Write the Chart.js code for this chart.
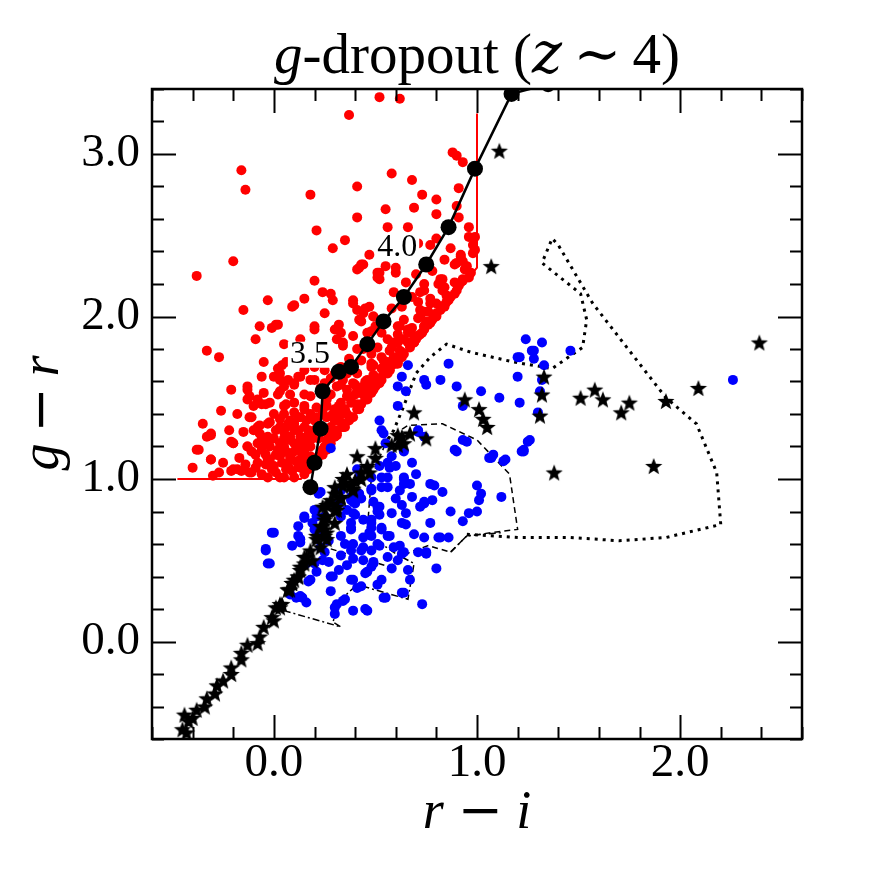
<!DOCTYPE html>
<html>
<head>
<meta charset="utf-8">
<script src="https://cdn.jsdelivr.net/npm/chart.js@4.4.1/dist/chart.umd.min.js"></script>
<style>
  html, body { margin: 0; padding: 0; background: #fff; }
  #wrap { width: 891px; height: 891px; }
</style>
</head>
<body>
<div id="wrap"><canvas id="c" width="891" height="891"></canvas></div>
<script>
// colour-colour diagram, r-i vs g-r

const xTickVals = [0, 1, 2];
const yTickVals = [0, 1, 2, 3];

// g-dropout candidates (red)
const redPts = [
  [0.52,3.35],[0.62,3.34],[0.37,3.24],[0.88,3.01],[0.90,2.99],[0.93,2.95],[-0.16,2.90],[-0.14,2.78],
  [0.58,2.88],[0.68,2.84],[0.41,2.80],[0.18,2.75],[0.91,2.79],[0.69,2.67],[0.80,2.72],[0.80,2.63],
  [0.91,2.61],[0.41,2.61],[0.21,2.53],[0.56,2.55],[0.66,2.55],[0.80,2.48],[0.96,2.49],[0.98,2.44],
  [0.98,2.39],[0.77,2.44],[0.71,2.45],[0.29,2.42],[-0.20,2.34],[-0.38,2.25],[0.43,2.32],[0.41,2.29],
  [0.52,2.27],[0.55,2.31],[0.60,2.30],[0.60,2.27],[0.51,2.24],[0.89,2.32],[0.93,2.34],[0.94,2.29],
  [0.92,2.38],[0.83,2.23],[0.81,2.20],[0.89,2.21],[0.92,2.21],[0.83,2.16],[0.74,2.20],[0.72,2.15],
  [0.77,2.11],[0.20,2.22],[0.24,2.15],[0.28,2.14],[-0.03,2.10],[0.15,2.11],[0.39,2.10],
  [0.10,2.07],[-0.15,2.04],[0.39,2.08],[0.41,2.04],[0.47,2.06],[0.44,2.02],[0.71,2.09],[0.74,2.03],
  [0.71,1.99],[0.75,1.97],[0.80,2.00],[0.01,1.95],[-0.01,1.93],[-0.07,1.94],[-0.09,1.86],[0.20,1.94],
  [0.20,1.92],[0.32,1.95],[0.30,1.92],[0.33,1.90],[0.34,1.84],[0.43,1.97],[0.48,1.91],[0.49,2.00],
  [0.62,1.94],[0.66,1.92],[0.69,1.88],[0.61,1.89],[0.56,1.86],[0.66,1.84],[0.74,1.94],[0.72,1.89],
  [0.62,1.79],[0.59,1.75],[0.56,1.72],[0.53,1.75],[0.49,1.70],[0.57,1.67],[0.49,1.64],[0.46,1.61],
  [0.51,1.59],[0.53,1.61],[0.49,1.55],[0.43,1.53],[0.46,1.49],[0.41,1.46],[0.43,1.46],[0.36,1.55],
  [0.38,1.47],[0.33,1.40],[0.39,1.38],[0.34,1.32],[0.30,1.36],[0.26,1.45],[0.30,1.28],[0.31,1.27],
  [0.26,1.24],[0.26,1.18],[0.24,1.15],[0.17,1.08],[0.20,1.11],[0.15,1.03],[0.12,1.08],[0.08,1.14],
  [0.05,1.01],[0.07,1.08],[0.00,1.08],[-0.03,1.01],[-0.03,1.12],[-0.08,1.10],[-0.12,1.04],[-0.18,1.06],
  [-0.21,1.05],[-0.21,1.23],[-0.20,1.22],[-0.31,1.27],[-0.33,1.26],[-0.37,1.18],[-0.31,1.12],[-0.33,1.79],
  [-0.27,1.75],[-0.11,1.17],[-0.13,1.20],[-0.12,1.38],[-0.08,1.32],[-0.06,1.26],[-0.02,1.24],[-0.03,1.34],
  [0.03,1.32],[0.07,1.34],[0.10,1.34],[0.08,1.26],[0.13,1.26],[0.16,1.24],[0.15,1.18],[0.12,1.20],
  [0.05,1.20],[0.02,1.18],[0.13,1.12],[0.16,1.10],[-0.10,1.45],[-0.13,1.55],[-0.13,1.49],[-0.08,1.48],
  [-0.04,1.46],[0.05,1.45],[0.02,1.52],[0.00,1.63],[-0.06,1.63],[0.03,1.61],[0.07,1.61],[0.02,1.68],
  [0.04,1.70],[0.12,1.63],[0.15,1.67],[0.10,1.58],[0.15,1.52],[0.15,1.43],[0.12,1.38],[0.18,1.40],
  [0.20,1.36],[0.25,1.67],[0.20,1.61],[0.24,1.71],
  [0.33,1.69],[0.36,1.65],[0.41,1.65],[0.39,1.59],[0.43,1.73],[0.48,1.77],[0.51,1.81],[0.59,1.84],
  [0.61,1.71],[0.46,1.55],[0.42,1.43],[0.35,1.32],[0.31,1.28],[0.27,1.22],[0.24,1.16],[0.19,1.10],
  [0.17,1.06],[0.37,1.36],[0.41,1.43],[0.45,1.49],[0.48,1.53],[0.52,1.59],[0.56,1.65],[0.60,1.71],
  [0.63,1.75],[0.70,1.86],[0.73,1.90],[0.78,1.98],[0.82,2.04],[0.86,2.10],[0.89,2.14],
  [0.02,1.95],[0.09,2.06],[0.29,2.10],[0.42,2.30],[0.44,2.32],[0.51,2.27],[0.52,2.23],[0.59,2.15],
  [0.45,2.05],[0.42,1.98],[0.49,2.00],[0.50,1.94],[0.31,1.86],[0.34,1.82],[0.39,1.88],[0.41,1.80],
  [0.61,1.94],[0.64,1.98],[0.72,2.04],[0.74,2.16],[0.82,2.23],[0.84,2.18],[0.92,2.37],[0.90,2.33],
  [0.95,2.31],[0.99,2.41],[0.99,2.49],[0.77,2.08],[0.72,2.00],[0.74,1.94],[0.66,1.90],[0.61,1.84],
  [0.57,1.79],[0.54,1.73],[0.48,1.71],
  [-0.13,1.57],[-0.12,1.51],[-0.08,1.49],[0.03,1.65],[0.05,1.57],[0.10,1.59],[0.13,1.63],[0.18,1.61],
  [0.03,1.54],[-0.02,1.47],[-0.06,1.46],[0.06,1.46],[0.10,1.47],[0.15,1.45],[0.18,1.51],[0.21,1.38],
  [0.13,1.38],[0.08,1.36],[0.03,1.37],[-0.02,1.35],[-0.07,1.33],[-0.11,1.38],[-0.10,1.30],[-0.07,1.28],
  [-0.03,1.26],[0.01,1.30],[0.05,1.29],[0.12,1.30],[0.16,1.26],[0.08,1.24],[0.03,1.22],[-0.02,1.20],
  [-0.06,1.18],[-0.09,1.15],[-0.13,1.20],[-0.20,1.22],[-0.31,1.12],[-0.38,1.18],[-0.31,1.28],[-0.20,1.06],
  [-0.16,1.05],[-0.11,1.04],[-0.06,1.03],[-0.01,1.06],[0.03,1.01],[0.06,1.06],[0.10,1.01],[0.13,1.07],
  [0.08,1.12],[0.03,1.14],[-0.02,1.12],[0.12,1.18],[0.16,1.14],[0.18,1.20],[0.17,1.30],
  [0.26,1.38],[0.30,1.43],[0.33,1.47],[0.36,1.51],[0.41,1.55],[0.44,1.57],[0.49,1.61],[0.54,1.65],
  [0.57,1.67],[0.61,1.72],[0.64,1.77],[0.69,1.84],[0.71,1.88],[0.77,1.96],[0.80,2.02],[0.84,2.06],
  [0.87,2.12],[0.90,2.16],[0.93,2.23],[0.97,2.27],[0.31,1.30],[0.34,1.32],[0.38,1.38],[0.42,1.45],
  [0.46,1.50],[0.50,1.57],[0.28,1.22],[0.30,1.26],[0.20,1.12],[0.16,1.06],[0.24,1.18],[0.22,1.14],
  [0.25,1.20],[0.23,1.30],[0.26,1.49],[0.31,1.57],[0.34,1.61],[0.39,1.67],[0.48,1.69],[0.30,1.65],
  [0.25,1.59],
  [-0.14,1.09],[-0.09,1.07],[-0.04,1.09],[0.01,1.04],[0.04,1.10],[0.09,1.05],[0.11,1.11],[0.14,1.15],
  [0.10,1.17],[0.06,1.17],[0.01,1.15],[-0.04,1.15],[-0.08,1.22],[-0.04,1.22],[0.00,1.25],[0.05,1.25],
  [0.10,1.22],[0.14,1.22],[0.19,1.25],[0.20,1.30],[0.15,1.32],[0.10,1.30],[0.06,1.32],[0.00,1.40],
  [0.05,1.40],[0.10,1.41],[0.16,1.36],[0.21,1.44],[0.24,1.41],[0.28,1.32],[0.27,1.27],[0.22,1.25],
  [0.29,1.40],[0.32,1.45],[0.35,1.43],[0.38,1.50],[0.40,1.52],[0.44,1.52],[0.47,1.56],[0.52,1.62],
  [0.55,1.69],[0.58,1.70],[0.63,1.78],[0.67,1.81],[0.69,1.84],[0.74,1.92],[0.76,1.95],[0.80,2.01],
  [0.84,2.07],[0.85,2.09],[0.91,2.19],[0.93,2.22],[0.96,2.24],[0.85,2.13],[0.80,2.08],[0.76,2.03],
  [0.68,1.93],[0.64,1.86],[0.58,1.81],[0.53,1.68],[0.45,1.60],[0.40,1.58],[0.36,1.40],[0.33,1.35],
  [-0.17,1.13],[-0.25,1.10],[-0.27,1.04],[-0.15,1.29],[-0.18,1.40],[-0.22,1.30],[-0.05,1.53],[0.08,1.52],
  [0.06,1.72],[0.11,1.75],[0.17,1.77],[0.20,1.69],[0.23,1.56],[0.28,1.52],[0.28,1.62],[0.33,1.58],
  [0.37,1.74],[0.44,1.80],[0.46,1.90],[0.53,1.90],[0.55,1.97],[0.58,2.05],[0.63,2.06],[0.68,2.12],
  [0.65,2.21],[0.70,2.26],[0.78,2.28],[0.84,2.35],[0.87,2.42],[0.96,2.55],[0.90,2.68],[0.63,2.41],
  [0.47,2.38],[0.35,2.47],[0.55,2.66],[0.73,2.75],[0.25,2.02],[0.13,1.86],[0.05,1.83],[-0.05,1.72],
  [-0.21,1.55],[-0.26,1.42],[-0.35,1.34],[-0.40,1.07],[-0.30,1.02],[0.18,1.14]
];

// other galaxies (blue)
const bluePts = [
  [1.24,1.86],[1.28,1.79],[1.28,1.74],[1.20,1.75],[1.20,1.63],[0.86,1.71],[0.82,1.61],[0.90,1.57],
  [1.02,1.54],[1.11,1.50],[1.21,1.47],[0.93,1.45],[1.26,1.24],[1.23,1.18],[1.30,1.41],[0.66,1.70],
  [0.63,1.63],[0.61,1.57],[0.65,1.54],[0.74,1.61],[0.75,1.58],[0.61,1.45],[0.52,1.36],[0.53,1.30],
  [0.71,1.30],[0.93,1.24],[0.89,1.18],[1.08,1.15],[1.14,1.12],[1.00,0.96],[1.02,0.91],[1.12,0.89],
  [1.01,0.87],[0.96,0.79],[1.00,0.80],[0.93,0.74],[0.77,0.97],[0.79,0.96],[0.62,0.93],[0.68,0.89],
  [0.74,0.86],[0.78,0.87],[0.64,0.97],[0.64,1.01],[0.60,1.08],[0.56,0.95],[0.53,0.95],[0.56,1.01],
  [0.52,1.08],[0.48,1.01],[0.48,0.93],[0.56,1.10],[0.68,1.10],[0.63,0.84],[0.65,0.79],[0.63,0.73],
  [0.77,0.73],[0.74,0.64],[0.81,0.64],[0.86,0.64],[0.75,0.55],[0.80,0.45],[0.73,0.23],[0.64,0.55],
  [0.62,0.59],[0.61,0.50],[0.66,0.44],[0.63,0.30],[0.54,0.27],[0.45,0.20],[0.53,0.38],[0.51,0.35],
  [0.46,0.43],[0.49,0.48],[0.44,0.50],[0.48,0.56],[0.43,0.56],[0.51,0.60],[0.53,0.69],[0.47,0.67],
  [0.56,0.65],[0.59,0.58],[0.39,0.60],[0.38,0.69],[0.38,0.73],[0.39,0.79],[0.40,0.85],[0.38,0.89],
  [0.42,0.91],[0.33,0.93],[0.32,0.85],[0.36,0.81],[0.33,0.77],[0.25,0.77],[0.20,0.81],[0.19,0.73],
  [0.20,0.69],[0.15,0.77],[0.12,0.71],[0.13,0.63],[0.00,0.67],[-0.04,0.56],[-0.03,0.48],[0.16,0.48],
  [0.23,0.58],[0.24,0.50],[0.33,0.53],[0.32,0.44],[0.28,0.40],[0.28,0.31],[0.38,0.38],[0.41,0.33],
  [0.17,0.37],[0.13,0.28],[0.16,0.24],[0.30,0.21],[0.30,0.17],[0.34,0.25],[0.22,0.91],[0.41,1.06],
  [0.42,1.01],[0.49,0.86],[0.51,0.80],
  [0.54,1.28],[0.71,1.29],[0.74,1.26],[0.64,1.17],[0.58,1.14],[0.57,1.07],[0.53,1.01],[0.64,1.00],
  [0.67,0.97],[0.90,1.17],[0.95,1.23],[1.07,1.13],[1.13,1.11],[1.23,1.17],[1.25,1.23],[0.72,0.83],
  [0.65,0.72],[0.52,0.83],[0.52,0.78],[0.53,0.70],[0.48,0.70],[0.48,0.65],[0.52,0.59],[0.57,0.65],
  [0.63,0.54],[0.75,0.54],[0.82,0.64],[0.67,0.38],[0.64,0.30],[0.46,0.19],[0.39,0.19],[0.39,0.38],
  [0.45,0.42],[0.48,0.46],[0.35,0.26],[0.44,0.58],[0.27,0.49],[0.25,0.55],[0.21,0.43],[0.14,0.27],
  [0.12,0.65],[0.15,0.76],[0.21,0.77],[0.23,0.92],[-0.01,0.67],[-0.02,0.48],[0.28,1.19],[0.38,0.87],
  [0.43,0.88],[0.48,0.94],[0.48,0.75],[0.38,0.70],[0.44,0.64],[0.33,0.65],[0.38,0.56],[0.39,0.51],
  [1.32,1.84],[1.27,1.79],[1.21,1.75],[1.46,1.79],[1.33,1.70],[1.32,1.61],[1.31,1.54],[2.26,1.61],
  [1.22,1.17],[1.06,1.13],[-0.04,0.57],[0.13,0.61],[0.08,0.29],[0.11,0.27],[0.20,0.48],[0.18,0.38],
  [0.29,0.40],[0.31,0.23],[0.55,0.27],[0.49,0.49],[0.41,0.91],[0.40,0.78],[0.48,0.73],[0.51,0.83],
  [0.74,0.85],[0.71,0.55],[0.39,0.86],
  [0.60,0.88],[0.70,1.03],[0.58,0.79],[0.44,0.75],[0.35,0.60],[0.27,0.62],[0.43,0.34],[0.58,0.45],
  [0.69,0.66],[0.83,0.92],[0.87,0.80],[0.55,1.22],[0.23,0.68],[0.09,0.59],[0.36,0.47],[0.56,0.52]
];

// stars
const starPts = [
  [2.39,1.84],[2.09,1.56],[1.93,1.48],[1.75,1.47],[1.71,1.41],[1.62,1.49],[1.58,1.55],[1.51,1.50],
  [1.87,1.08],[1.38,1.04],[1.33,1.63],[1.32,1.52],[1.31,1.39],[1.01,1.43],[1.03,1.37],[1.05,1.32],
  [1.11,3.02],[1.07,2.31],[0.94,1.49],
  [0.69,1.41],[0.75,1.25],[0.67,1.28],[0.63,1.26],[0.61,1.21],[0.58,1.21],[0.50,1.19],[0.50,1.13],
  [0.41,1.14],[0.46,1.08],[0.47,1.04],[0.43,1.04],[0.35,0.98],[0.30,0.95],[0.39,0.93],[0.33,0.89],
  [0.28,0.85],[0.31,0.81],[0.24,0.83],[0.26,0.77],[0.30,0.73],[0.25,0.69],[0.21,0.65],[0.26,0.63],
  [0.23,0.58],[0.18,0.56],[0.19,0.50],[0.15,0.48],[0.13,0.44],[0.12,0.40],[0.09,0.36],[0.07,0.32],
  [0.04,0.23],[0.01,0.21],[-0.01,0.15],[0.03,0.23],[0.00,0.13],[-0.05,0.09],[-0.07,0.03],[-0.08,-0.01],
  [-0.13,-0.02],[-0.16,-0.07],[-0.16,-0.11],[-0.21,-0.16],[-0.21,-0.20],[-0.25,-0.24],[-0.28,-0.27],
  [-0.29,-0.32],[-0.33,-0.35],[-0.34,-0.40],[-0.38,-0.42],[-0.40,-0.47],[-0.44,-0.45],[-0.42,-0.49],
  [-0.45,-0.54],[-0.43,-0.56],
  [0.34,0.96],[0.30,0.91],[0.33,0.88],[0.26,0.84],[0.30,0.81],[0.25,0.77],[0.24,0.71],[0.26,0.67],
  [0.21,0.63],[0.16,0.52],[0.13,0.46],[0.12,0.40],[0.09,0.36],[0.07,0.32],[0.03,0.21],
  [0.39,0.94],[0.28,0.87],[0.31,0.83],[0.25,0.75],[0.23,0.71],[0.25,0.65],[0.15,0.52],[0.10,0.38],
  [0.08,0.32],[0.61,1.27],[0.64,1.22],[0.46,1.07],[0.40,0.99],[0.38,0.96],[0.34,1.00],[0.36,1.03],
  [0.43,1.00]
];

// model track, z = 3.1 ... 4.4
const trackX = [0.18, 0.20, 0.23, 0.24, 0.32, 0.38, 0.46, 0.54, 0.64, 0.75, 0.86, 0.99, 1.17, 1.35];
const trackY = [0.95, 1.10, 1.31, 1.54, 1.66, 1.69, 1.83, 1.97, 2.12, 2.32, 2.55, 2.91, 3.37, 3.43];
const trackZ = [3.1, 3.2, 3.3, 3.4, 3.5, 3.6, 3.7, 3.8, 3.9, 4.0, 4.1, 4.2, 4.3, 4.4];
const labelZ = [3.5, 4.0];

// selection boundary
const cutX = [-0.475, 0.133, 1.0, 1.0];
const cutY = [1.0, 1.0, 2.3, 3.25];

// contours
const dotX = [0.95, 1.21, 1.46, 1.70, 1.93, 2.20, 2.18, 2.08, 1.93, 1.57, 1.40, 1.37, 1.32, 1.51, 1.54, 1.52, 1.37, 1.18, 0.97, 0.85, 0.77, 0.70, 0.64, 0.59, 0.56];
const dotY = [0.66, 0.64, 0.64, 0.62, 0.64, 0.72, 1.04, 1.34, 1.50, 2.08, 2.44, 2.48, 2.33, 2.14, 1.98, 1.81, 1.68, 1.72, 1.78, 1.83, 1.75, 1.65, 1.45, 1.30, 1.24];
const dashX = [0.28, 0.46, 0.57, 0.67, 0.76, 0.87, 0.95, 1.20, 1.16, 1.00, 0.83, 0.66, 0.56, 0.48, 0.46];
const dashY = [0.57, 0.50, 0.46, 0.55, 0.59, 0.55, 0.65, 0.69, 1.03, 1.24, 1.34, 1.33, 1.25, 1.01, 0.69];
const ddX = [0.46, 0.53, 0.60, 0.69, 0.66, 0.41, 0.34, 0.29, 0.33, 0.05];
const ddY = [0.69, 0.60, 0.54, 0.48, 0.26, 0.35, 0.27, 0.12, 0.09, 0.19];
const dd2X = [0.87, 0.95, 1.12];
const dd2Y = [0.55, 0.65, 0.67];

const SERIF = "'Liberation Serif', 'DejaVu Serif', serif";
const MATH = "'DejaVu Serif', serif";

function pts(a) { return a.map(p => ({ x: p[0], y: p[1] })); }
function zip(xs, ys) { return xs.map((v, i) => ({ x: v, y: ys[i] })); }

function makeStar(r) {
  const c = document.createElement('canvas');
  const s = Math.ceil(r * 2 + 2);
  c.width = s; c.height = s;
  const g = c.getContext('2d');
  g.fillStyle = '#000';
  g.beginPath();
  for (let i = 0; i < 10; i++) {
    const rr = i % 2 ? r * 0.42 : r;
    const a = -Math.PI / 2 + i * Math.PI / 5;
    g.lineTo(s / 2 + rr * Math.cos(a), s / 2 + rr * Math.sin(a) + r * 0.1);
  }
  g.closePath();
  g.fill();
  return c;
}
const starImg = makeStar(9);

// draw a run of [text, italic, font] pieces
function drawRun(ctx, pieces, size, x, y, align) {
  let w = 0;
  pieces.forEach(p => {
    ctx.font = (p[1] ? 'italic ' : '') + size + 'px ' + (p[2] || SERIF);
    w += ctx.measureText(p[0]).width;
  });
  let cx = align === 'center' ? x - w / 2 : x;
  ctx.textAlign = 'left';
  ctx.textBaseline = 'alphabetic';
  pieces.forEach(p => {
    ctx.font = (p[1] ? 'italic ' : '') + size + 'px ' + (p[2] || SERIF);
    ctx.fillText(p[0], cx, y);
    cx += ctx.measureText(p[0]).width;
  });
}

const decor = {
  id: 'decor',
  afterDatasetsDraw(chart) {
    const { ctx, scales: { x, y } } = chart;
    // redshift labels on the track, white box behind like the original
    ctx.save();
    ctx.font = '32px ' + SERIF;
    ctx.textAlign = 'center';
    ctx.textBaseline = 'middle';
    labelZ.forEach(z => {
      const i = trackZ.findIndex(t => Math.abs(t - z) < 1e-6);
      const px = x.getPixelForValue(trackX[i]) - 29;
      const py = y.getPixelForValue(trackY[i]) - 17;
      const w = ctx.measureText(z.toFixed(1)).width;
      ctx.fillStyle = '#fff';
      ctx.fillRect(px - w / 2 - 2, py - 13, w + 4, 26);
      ctx.fillStyle = '#000';
      ctx.fillText(z.toFixed(1), px, py);
    });
    ctx.restore();
  },
  afterDraw(chart) {
    const { ctx, chartArea: a, scales: { x, y } } = chart;
    ctx.save();
    ctx.strokeStyle = '#000';
    ctx.fillStyle = '#000';

    // inward ticks on all sides
    ctx.lineWidth = 2;
    ctx.beginPath();
    for (let i = -3; i <= 13; i++) {
      const v = i * 0.2;
      if (v < x.min - 1e-6 || v > x.max + 1e-6) continue;
      const px = Math.round(x.getPixelForValue(v)) + 0.5;
      const len = Math.abs(v - Math.round(v)) < 1e-6 ? 24 : 12;
      ctx.moveTo(px, a.bottom); ctx.lineTo(px, a.bottom - len);
      ctx.moveTo(px, a.top); ctx.lineTo(px, a.top + len);
    }
    for (let i = -3; i <= 17; i++) {
      const v = i * 0.2;
      if (v < y.min - 1e-6 || v > y.max + 1e-6) continue;
      const py = Math.round(y.getPixelForValue(v)) + 0.5;
      const len = Math.abs(v - Math.round(v)) < 1e-6 ? 24 : 12;
      ctx.moveTo(a.left, py); ctx.lineTo(a.left + len, py);
      ctx.moveTo(a.right, py); ctx.lineTo(a.right - len, py);
    }
    ctx.stroke();

    // frame
    ctx.lineWidth = 2.5;
    ctx.strokeRect(a.left, a.top, a.right - a.left, a.bottom - a.top);

    // title
    drawRun(ctx, [['g', true], ['-dropout (', false], ['z', true, MATH], ['\u2009', false],
      ['\u223C', false, MATH], ['\u2009', false], ['4)', false]], 57, (a.left + a.right) / 2, 73, 'center');

    // x axis title
    drawRun(ctx, [['r', true], [' ', false], ['\u2212', false, MATH], [' ', false], ['i', true]],
      54, (a.left + a.right) / 2, 828, 'center');

    // y axis title
    ctx.save();
    ctx.translate(58, 413);
    ctx.rotate(-Math.PI / 2);
    drawRun(ctx, [['g', true], ['\u2009', false], ['\u2212', false, MATH], ['\u2009', false], ['r', true]],
      54, 0, 0, 'center');
    ctx.restore();

    ctx.restore();
  }
};

const lineSet = (data, dash, width, order) => ({
  data: data, showLine: true, pointRadius: 0, borderColor: '#000', borderWidth: width,
  borderDash: dash, fill: false, tension: 0, order: order
});

new Chart(document.getElementById('c'), {
  type: 'scatter',
  data: {
    datasets: [
      lineSet(zip(dotX, dotY), [3, 5], 3, 10),
      lineSet(zip(dashX, dashY), [6, 4], 1.5, 10),
      lineSet(zip(ddX, ddY), [7, 3, 2, 3], 1.5, 10),
      lineSet(zip(dd2X, dd2Y), [7, 3, 2, 3], 1.5, 10),
      { data: pts(redPts), backgroundColor: '#ff0000', borderWidth: 0, pointRadius: 5, order: 6 },
      { data: zip(cutX, cutY), showLine: true, pointRadius: 0, borderColor: '#ff0000', borderWidth: 2, order: 5 },
      { data: pts(bluePts), backgroundColor: '#0000ff', borderWidth: 0, pointRadius: 5, order: 4 },
      { data: pts(starPts), pointStyle: starImg, pointRadius: 9, order: 3 },
      { data: zip(trackX, trackY), showLine: true, borderColor: '#000', borderWidth: 2.5,
        backgroundColor: '#000', pointRadius: 8, pointBorderWidth: 0, order: 1 }
    ]
  },
  options: {
    responsive: false,
    animation: false,
    events: [],
    layout: { padding: { top: 89, right: 89, left: 0, bottom: 0 } },
    plugins: { legend: { display: false }, tooltip: { enabled: false }, title: { display: false } },
    scales: {
      x: {
        type: 'linear', min: -0.6, max: 2.6,
        grid: { display: false, drawTicks: false },
        border: { display: false },
        afterBuildTicks: s => { s.ticks = xTickVals.map(v => ({ value: v })); },
        afterFit: s => { s.height = 152; },
        ticks: {
          color: '#000', padding: -4, maxRotation: 0,
          font: { family: SERIF, size: 47 },
          callback: v => Number(v).toFixed(1)
        }
      },
      y: {
        type: 'linear', min: -0.6, max: 3.4,
        grid: { display: false, drawTicks: false },
        border: { display: false },
        afterBuildTicks: s => { s.ticks = yTickVals.map(v => ({ value: v })); },
        afterFit: s => { s.width = 152; },
        ticks: {
          color: '#000', padding: 12,
          font: { family: SERIF, size: 47 },
          callback: v => Number(v).toFixed(1)
        }
      }
    }
  },
  plugins: [decor]
});
</script>
</body>
</html>
